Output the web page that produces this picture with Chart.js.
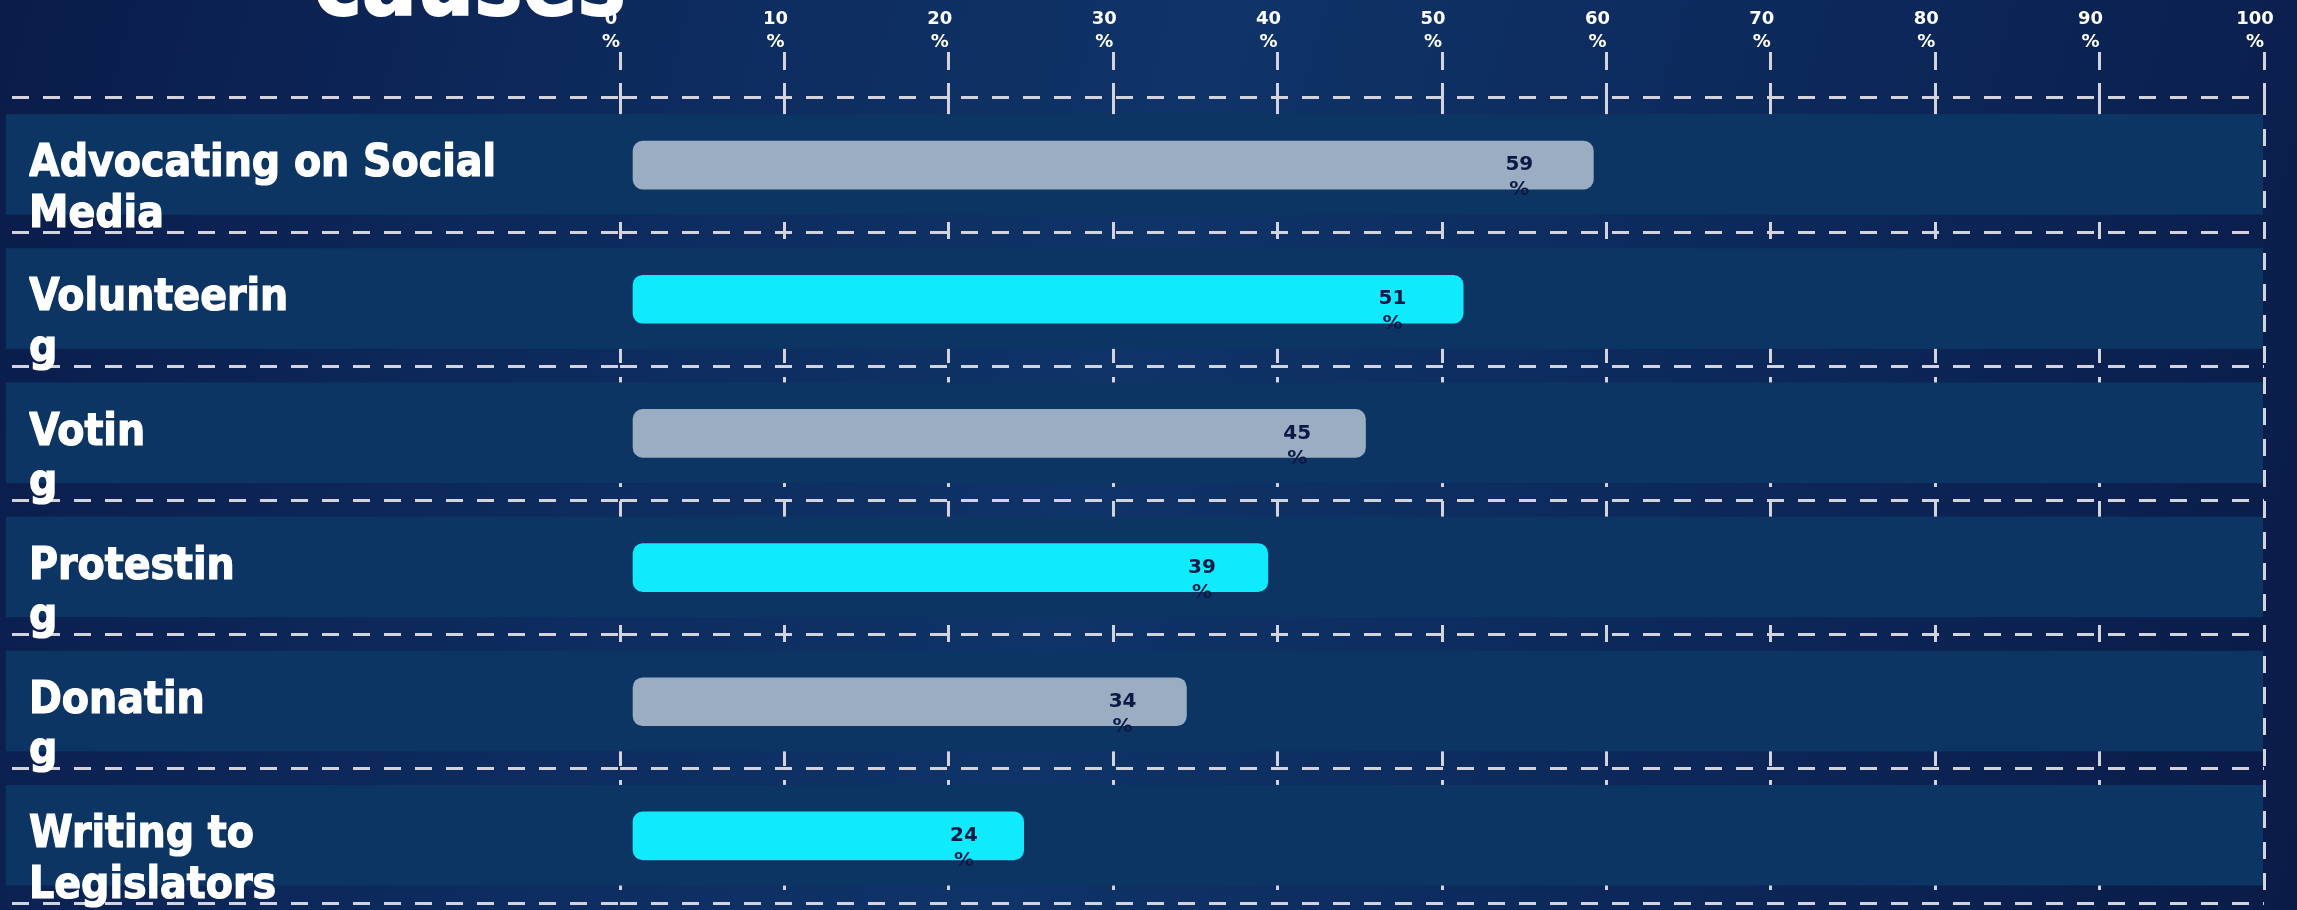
<!DOCTYPE html>
<html>
<head>
<meta charset="utf-8">
<title>causes</title>
<style>
  html, body { margin: 0; padding: 0; width: 2297px; height: 910px; overflow: hidden; }
  body {
    position: relative;
    background: linear-gradient(105deg, #0a1c4a 0%, #0d2a5d 25%, #0f3468 48%, #0c2759 75%, #0a1b47 100%);
  }
  #title {
    position: absolute; left: 314px; top: -61px; margin: 0; z-index: 2;
    color: #ffffff; font: bold 90px 'DejaVu Sans Condensed', 'DejaVu Sans', sans-serif;
    -webkit-text-stroke: 2px #ffffff;
    line-height: 1; white-space: nowrap;
  }
  #wrap { position: absolute; left: 0; top: 0; width: 2297px; height: 910px; }
</style>
<script src="https://cdn.jsdelivr.net/npm/chart.js@4.4.1/dist/chart.umd.min.js"></script>
</head>
<body>
<h1 id="title">causes</h1>
<div id="wrap"><canvas id="causeChart"></canvas></div>
<script>
const categories = ['Advocating on Social Media', 'Volunteering', 'Voting', 'Protesting', 'Donating', 'Writing to Legislators'];
// how the labels wrap in the original
const labelLines = [['Advocating on Social', 'Media'], ['Volunteerin', 'g'], ['Votin', 'g'], ['Protestin', 'g'], ['Donatin', 'g'], ['Writing to', 'Legislators']];
const shares = [59, 51, 45, 39, 34, 24];
const tickValues = [0, 10, 20, 30, 40, 50, 60, 70, 80, 90, 100];
const barColors = ['#9aadc3', '#0feafc'];

const labelFont = "'DejaVu Sans Condensed', 'DejaVu Sans', sans-serif";
const numberFont = "'DejaVu Sans', sans-serif";
const lineColor = '#d2d3dc';

const rowBands = {
    id: 'rowBands',
    beforeDatasetsDraw(chart, args, opts) {
        const { ctx, chartArea, scales: { y } } = chart;
        const step = Math.abs(y.getPixelForValue(1) - y.getPixelForValue(0));
        ctx.save();
        ctx.fillStyle = opts.color;
        categories.forEach((c, i) => {
            const yc = y.getPixelForValue(i);
            ctx.fillRect(opts.left, yc - step * 0.38, chartArea.right - 1 - opts.left, step * 0.75);
        });
        ctx.restore();
    }
};

const valueLabels = {
    id: 'valueLabels',
    afterDatasetsDraw(chart) {
        const { ctx } = chart;
        const meta = chart.getDatasetMeta(0);
        ctx.save();
        ctx.fillStyle = '#0b1a45';
        ctx.font = 'bold 20px ' + numberFont;
        ctx.textAlign = 'center';
        ctx.textBaseline = 'middle';
        meta.data.forEach((bar, i) => {
            const x = bar.base + (bar.x - bar.base) * 0.975 - 50;
            ctx.fillText(String(shares[i]), x, bar.y);
            ctx.fillText('%', x, bar.y + 25);
        });
        ctx.restore();
    }
};

const ctx = document.getElementById('causeChart').getContext('2d');
new Chart(ctx, {
    type: 'bar',
    data: {
        labels: categories,
        datasets: [{
            data: shares,
            xAxisID: 'xb',
            backgroundColor: shares.map((v, i) => barColors[i % 2]),
            borderRadius: 10,
            borderSkipped: false,
            barThickness: 48
        }]
    },
    options: {
        indexAxis: 'y',
        responsive: true,
        maintainAspectRatio: false,
        devicePixelRatio: 1,
        animation: false,
        layout: { padding: { left: 29, right: 33, top: 0, bottom: 7 } },
        plugins: {
            legend: { display: false },
            tooltip: { enabled: false },
            rowBands: { color: '#0d3563', left: 6 }
        },
        scales: {
            x: {
                type: 'linear',
                position: 'top',
                min: 0,
                max: 100,
                afterBuildTicks(scale) {
                    scale.ticks = tickValues.map(v => ({ value: v }));
                },
                afterFit(scale) {
                    scale.height = 98;
                    scale.paddingLeft = 0;
                    scale.paddingRight = 0;
                },
                border: { display: false, dash: [17, 14] },
                grid: {
                    color: lineColor,
                    lineWidth: 3,
                    tickLength: 46,
                    tickColor: lineColor,
                    tickWidth: 3,
                    tickBorderDash: [18, 13]
                },
                ticks: {
                    color: '#ffffff',
                    padding: -2,
                    labelOffset: -9,
                    maxRotation: 0,
                    font: { family: numberFont, size: 18, weight: 'bold', lineHeight: 1.3 },
                    callback: value => [String(value), '%']
                }
            },
            xb: {
                type: 'linear',
                display: false,
                min: -0.8,
                max: 100.2
            },
            y: {
                type: 'category',
                afterFit(scale) {
                    scale.width = 591;
                    scale.paddingTop = 0;
                    scale.paddingBottom = 0;
                },
                border: { display: false, dash: [17, 14] },
                grid: {
                    color: lineColor,
                    lineWidth: 3,
                    tickLength: 608,
                    tickColor: lineColor,
                    tickWidth: 3,
                    tickBorderDash: [17, 14]
                },
                ticks: {
                    z: 1,
                    color: '#ffffff',
                    textStrokeColor: '#ffffff',
                    textStrokeWidth: 1.2,
                    crossAlign: 'far',
                    padding: 0,
                    labelOffset: 25,
                    font: { family: labelFont, size: 44, weight: 'bold', lineHeight: 1.15 },
                    callback: (value, index) => labelLines[index]
                }
            }
        }
    },
    plugins: [rowBands, valueLabels]
});
</script>
</body>
</html>
